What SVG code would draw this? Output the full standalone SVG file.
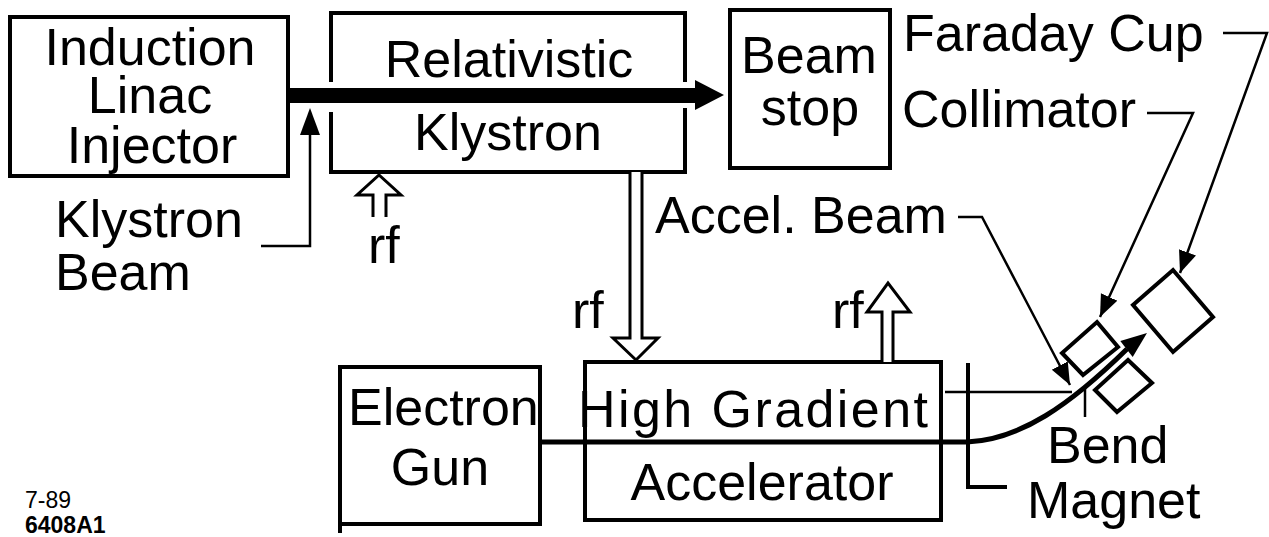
<svg xmlns="http://www.w3.org/2000/svg" width="1269" height="537" viewBox="0 0 1269 537">
<style>
.t{font-family:"Liberation Sans",Arial,sans-serif;font-size:52px;fill:#000}
.box{fill:none;stroke:#000;stroke-width:4}
.ln{fill:none;stroke:#000;stroke-width:2.5}
.hollow{fill:#fff;stroke:#000;stroke-width:3;stroke-linejoin:miter}
.small{font-family:"Liberation Sans",Arial,sans-serif;font-size:23px;fill:#000}
</style>
<defs>
<marker id="ah" markerUnits="userSpaceOnUse" markerWidth="24" markerHeight="20" refX="22" refY="9" orient="auto">
<path d="M0,0 L22,9 L0,18 Z" fill="#000"/>
</marker>
</defs>
<rect width="1269" height="537" fill="#fff"/>

<g id="induction-linac-injector">
<rect class="box" x="10" y="17" width="278" height="159"/>
<text class="t" x="150" y="65" text-anchor="middle">Induction</text>
<text class="t" x="150" y="113" text-anchor="middle">Linac</text>
<text class="t" x="152" y="163" text-anchor="middle">Injector</text>
</g>

<g id="relativistic-klystron">
<path class="box" d="M331,82 L331,13 L685,13 L685,82 M685,108 L685,172 L331,172 L331,112"/>
<text class="t" x="509" y="77" text-anchor="middle">Relativistic</text>
<text class="t" x="508" y="150" text-anchor="middle">Klystron</text>
</g>

<g id="beam-stop">
<rect class="box" x="730" y="10" width="160" height="158"/>
<text class="t" x="809" y="73" text-anchor="middle">Beam</text>
<text class="t" x="810" y="125" text-anchor="middle">stop</text>
</g>

<g id="electron-gun">
<path class="box" d="M340,533 L340,367 L540,367 L540,524 L338,524"/>
<text class="t" x="348" y="425">Electron</text>
<text class="t" x="440" y="485" text-anchor="middle">Gun</text>
</g>

<g id="high-gradient-accelerator">
<rect class="box" x="585" y="362" width="356" height="158"/>
<text class="t" x="578" y="427" textLength="350" lengthAdjust="spacing">High Gradient</text>
<text class="t" x="762" y="500" text-anchor="middle">Accelerator</text>
</g>

<g id="bend-magnet">
<path class="box" d="M968,363 L968,487 L1007,487"/>
<text class="t" x="1047" y="463">Bend</text>
<text class="t" x="1027" y="518">Magnet</text>
</g>

<g id="collimator">
<polygon class="box" points="1097,322 1118,347 1083,375 1062,353"/>
<polygon class="box" points="1128,360 1152,383 1117,412 1095,390"/>
<text class="t" x="902" y="127">Collimator</text>
</g>

<g id="faraday-cup">
<polygon class="box" points="1173,270 1213,317 1173,352 1133,305"/>
<text class="t" x="903" y="51">Faraday Cup</text>
</g>

<g id="labels">
<text class="t" x="55" y="237">Klystron</text>
<text class="t" x="55" y="290">Beam</text>
<text class="t" x="368" y="263">rf</text>
<text class="t" x="572" y="328">rf</text>
<text class="t" x="832" y="328">rf</text>
<text class="t" x="655" y="233">Accel. Beam</text>
<text class="small" x="25" y="508">7-89</text>
<text class="small" x="25" y="533" font-weight="bold">6408A1</text>
</g>

<g id="connectors">
<!-- relativistic beam -->
<rect x="288" y="88" width="409" height="15" fill="#000"/>
<polygon points="695,80 724,95 695,110" fill="#000"/>
<!-- klystron beam pointer -->
<polyline class="ln" points="261,246 310,246 310,132"/>
<polygon points="300,135 310,108 320,135" fill="#000"/>
<!-- rf hollow arrows -->
<polyline class="hollow" points="373,217 373,195 357,195 379,175 401,195 386,195 386,217"/>
<polyline class="hollow" points="630,172 630,338 613,338 636,360 658,338 642,338 642,172"/>
<polyline class="hollow" points="882,362 882,312 867,312 888,283 910,312 893,312 893,362"/>
<!-- accelerated beam -->
<path d="M540,442 L967,442 C1020,440 1070,405 1127,349" fill="none" stroke="#000" stroke-width="5"/>
<polygon points="1147,333 1132.7,356.9 1120.3,341.1" fill="#000"/>
<!-- thin reference lines -->
<line class="ln" x1="945" y1="392" x2="1072" y2="392"/>
<line class="ln" x1="1085" y1="387" x2="1085" y2="417"/>
<!-- label pointers -->
<polyline class="ln" points="958,217 982,217 1070,385" marker-end="url(#ah)"/>
<polyline class="ln" points="1147,113 1193,113 1100,317" marker-end="url(#ah)"/>
<polyline class="ln" points="1223,33 1267,33 1180,273" marker-end="url(#ah)"/>
</g>
</svg>
